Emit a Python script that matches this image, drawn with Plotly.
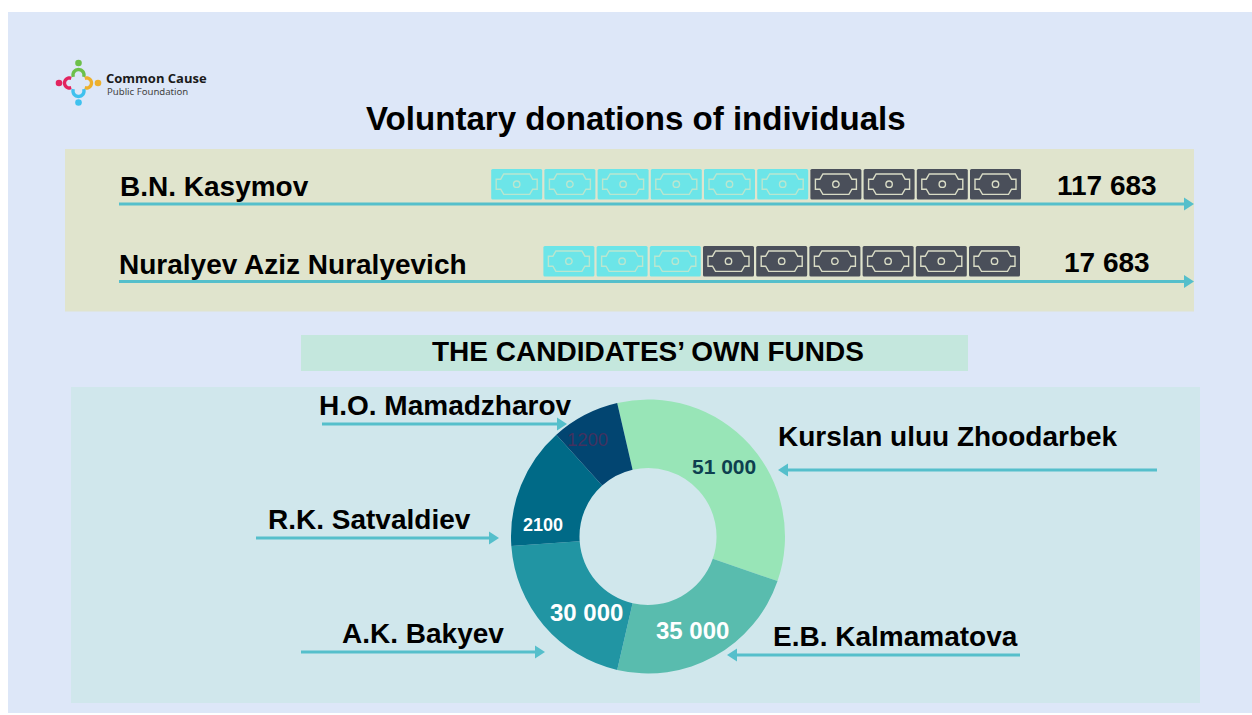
import math
import plotly.graph_objects as go

W, H = 1252, 715

# ---- data ----
donors = ["B.N. Kasymov", "Nuralyev Aziz Nuralyevich"]
donor_totals = ["117 683", "17 683"]
bills_light = [6, 3]
bills_dark = [4, 6]

candidates = ["Kurslan uluu Zhoodarbek", "E.B. Kalmamatova", "A.K. Bakyev", "R.K. Satvaldiev", "H.O. Mamadzharov"]
slice_labels = ["51 000", "35 000", "30 000", "2100", "1200"]
# Slice sizes as drawn in the picture (degrees of sweep, not proportional to the labels)
slice_sweep = [122, 84, 73, 52, 29]
slice_colors = ["#98E5B7", "#59BCAE", "#2195A3", "#006A87", "#024571"]

BG = "#DDE7F8"; OLIVE = "#E0E4CD"; TEAL = "#D0E7EC"; HEAD = "#C4E7DD"; ARROW = "#55BFCB"
CYAN = "#6CE5E8"; DARK = "#4A4F5A"; FONT = "Liberation Sans"

shapes, ann = [], []

def rect(x0, y0, x1, y1, color):
    shapes.append(dict(type="rect", xref="x", yref="y", x0=x0, y0=y0, x1=x1, y1=y1,
                       fillcolor=color, line_width=0, layer="below"))

def text(x, y, s, size, color="#000000", anchor="left", bold=True, font=FONT):
    if anchor == "left":
        x -= 2
    ann.append(dict(x=x, y=y, xref="x", yref="y", text=f"<b>{s}</b>" if bold else s, showarrow=False,
                    xanchor=anchor, yanchor="middle", font=dict(family=font, size=size, color=color)))

def arrow(x0, x1, y, lw=3, head=6.5, hl=10):
    d = 1 if x1 > x0 else -1
    shapes.append(dict(type="line", xref="x", yref="y", x0=x0, x1=x1 - d * hl * .8, y0=y, y1=y,
                       line=dict(color=ARROW, width=lw)))
    shapes.append(dict(type="path", xref="x", yref="y",
                       path=f"M{x1},{y} L{x1 - d*hl},{y-head} L{x1 - d*hl},{y+head} Z",
                       fillcolor=ARROW, line_width=0))

rect(8, 12, W, 713, BG)
rect(65, 149, 1194, 311.5, OLIVE)
rect(301, 335, 968, 371, HEAD)
rect(71, 387, 1200, 703, TEAL)

# logo
def arc(cx, cy, r, a0, a1, color, lw=3.4):
    pts = [(cx + r * math.cos(math.radians(a0 + (a1 - a0) * i / 24)),
            cy + r * math.sin(math.radians(a0 + (a1 - a0) * i / 24))) for i in range(25)]
    shapes.append(dict(type="path", xref="x", yref="y", line=dict(color=color, width=lw),
                       path="M" + " L".join(f"{x:.2f},{y:.2f}" for x, y in pts)))

def dot(cx, cy, r, color):
    shapes.append(dict(type="circle", xref="x", yref="y", x0=cx-r, x1=cx+r, y0=cy-r, y1=cy+r,
                       fillcolor=color, line_width=0))

arc(78.5, 75, 5.5, 160, 380, "#6CC04A"); dot(78.5, 63, 3.3, "#6CC04A")
arc(69.5, 83, 5, 70, 290, "#E2245F"); dot(59, 83, 3.3, "#E2245F")
arc(86.5, 83, 5, -110, 110, "#EDB02C"); dot(98, 83, 3.3, "#EDB02C")
arc(78.5, 91, 5.5, -20, 200, "#3FC1EE"); dot(78.5, 102.5, 3.3, "#3FC1EE")
text(106, 77.5, "Common Cause", 13, "#1A1A1A", font="Open Sans")
text(107, 91, "Public Foundation", 9.6, "#444444", bold=False, font="Noto Sans")

text(636, 118, "Voluntary donations of individuals", 33.1, anchor="center")
text(648, 351.5, "THE CANDIDATES’ OWN FUNDS", 28, anchor="center")

# pictogram rows
PITCH, BW, BH = 53.2, 51, 30.4

def bill(x, y, color, stroke):
    rd = 1.5
    x1, y1 = x + BW, y + BH
    outer = (f"M{x+rd},{y} L{x1-rd},{y} Q{x1},{y} {x1},{y+rd} L{x1},{y1-rd} Q{x1},{y1} {x1-rd},{y1} "
             f"L{x+rd},{y1} Q{x},{y1} {x},{y1-rd} L{x},{y+rd} Q{x},{y} {x+rd},{y} Z")
    shapes.append(dict(type="path", xref="x", yref="y", path=outer, fillcolor=color, line_width=0))
    t, bt, a, b = y + 5, y + BH - 5, y + 10.2, y + BH - 10.2
    p = (f"M{x+12.5},{t} L{x+38.5},{t} L{x+41.5},{a} L{x+46},{a} L{x+46},{b} L{x+41.5},{b} L{x+38.5},{bt} "
         f"L{x+12.5},{bt} L{x+9.5},{b} L{x+5},{b} L{x+5},{a} L{x+9.5},{a} Z")
    shapes.append(dict(type="path", xref="x", yref="y", path=p, line=dict(color=stroke, width=1.4)))
    cx, m = x + BW / 2, y + BH / 2
    shapes.append(dict(type="circle", xref="x", yref="y", x0=cx-3.2, x1=cx+3.2, y0=m-3.2, y1=m+3.2,
                       line=dict(color=stroke, width=1.4)))

row_y = [169, 246]
row_end = [1021, 1020]
line_y = [204, 281.5]
name_y = [186, 264]
total_x = [1107, 1107]
total_y = [185.5, 262.5]
name_x = [120, 119]
for i, name in enumerate(donors):
    n = bills_light[i] + bills_dark[i]
    for k in range(n):
        x = row_end[i] - BW - (n - 1 - k) * PITCH
        if k < bills_light[i]:
            bill(x, row_y[i], CYAN, "#B9E6CF")
        else:
            bill(x, row_y[i], DARK, "#D9DCC6")
    arrow(119, 1194, line_y[i])
    text(name_x[i], name_y[i], name, 28)
    text(total_x[i], total_y[i], donor_totals[i], 28, anchor="center")

# candidate names and arrows
label_pos = [(778, 436), (773, 636), (342, 633), (268, 519), (319, 405)]
arrow_pos = [(1157, 778, 470), (1020, 727, 655), (301, 545, 652), (256, 499, 538), (322, 567, 424)]
for name, (x, y), (a0, a1, ay) in zip(candidates, label_pos, arrow_pos):
    text(x, y, name, 28)
    arrow(a0, a1, ay)

# donut labels
val_pos = [(724, 466), (692, 630), (586.5, 612), (543, 525), (587, 439)]
val_size = [21, 24, 24, 18, 18.5]
val_color = ["#0E3F4F", "#FFFFFF", "#FFFFFF", "#FFFFFF", "#43315F"]
for s, (x, y), sz, c in zip(slice_labels, val_pos, val_size, val_color):
    text(x, y, s, sz, c, anchor="center", bold=(s != "1200"))

cx, cy, R = 648, 536.5, 137
pie = go.Pie(values=slice_sweep, labels=candidates, sort=False, direction="clockwise", rotation=-13,
             hole=0.5, textinfo="none", showlegend=False,
             marker=dict(colors=slice_colors, line=dict(width=0)),
             domain=dict(x=[(cx - R) / W, (cx + R) / W], y=[1 - (cy + R) / H, 1 - (cy - R) / H]))

fig = go.Figure(pie)
fig.update_layout(width=W, height=H, margin=dict(l=0, r=0, t=0, b=0), paper_bgcolor="white",
                  plot_bgcolor="rgba(0,0,0,0)", shapes=shapes, annotations=ann,
                  xaxis=dict(range=[0, W], visible=False, domain=[0, 1], fixedrange=True),
                  yaxis=dict(range=[H, 0], visible=False, domain=[0, 1], fixedrange=True))
fig.add_trace(go.Scatter(x=[0, W], y=[0, H], mode="markers", marker=dict(opacity=0),
                         hoverinfo="skip", showlegend=False))
fig.write_html("out.html", config=dict(displayModeBar=False),
               post_script="document.body.style.margin='0';document.body.style.overflow='hidden';")
